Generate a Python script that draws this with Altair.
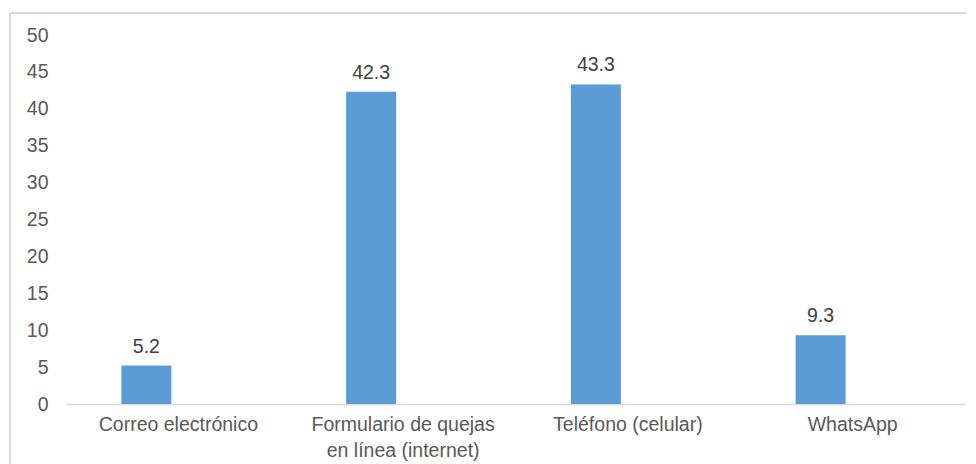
import altair as alt
import pandas as pd

categories = ["Correo electrónico", "Formulario de quejas\nen línea (internet)", "Teléfono (celular)", "WhatsApp"]
values = [5.2, 42.3, 43.3, 9.3]

df = pd.DataFrame({"cat": categories, "val": values})

FONT = "Liberation Sans"
GRAY = "#595959"
FS = 19.5

x = alt.X("cat:N", sort=categories, title=None,
          scale=alt.Scale(paddingInner=0, paddingOuter=0),
          axis=alt.Axis(labelAngle=0, labelFont=FONT, labelFontSize=FS, labelColor=GRAY,
                        labelExpr="split(datum.label, '\\n')", labelLineHeight=26,
                        labelPadding=11, ticks=False, domainColor="#d9d9d9", domainWidth=1.3,
                        labelBaseline="top", labelLimit=400))
y = alt.Y("val:Q", title=None, scale=alt.Scale(domain=[0, 50], nice=False),
          axis=alt.Axis(values=list(range(0, 51, 5)), grid=False, domain=False, ticks=False,
                        labelFont=FONT, labelFontSize=FS, labelColor=GRAY, labelPadding=18))

bars = alt.Chart(df).mark_bar(color="#5B9BD5", width=50, xOffset=-32).encode(x=x, y=y)
labels = alt.Chart(df).mark_text(font=FONT, fontSize=FS, color="#404040", dx=-32, dy=-13,
                                 baseline="alphabetic").encode(x=x, y=y, text=alt.Text("val:Q", format=".1f"))

border = alt.Chart(pd.DataFrame({"a": [0]})).mark_rule(color="#d9d9d9", strokeWidth=2, clip=False)
left = border.encode(x=alt.value(-56), y=alt.value(-22), y2=alt.value(470))
top = border.encode(x=alt.value(-56), x2=alt.value(920), y=alt.value(-22))

chart = alt.layer(left, top, bars, labels).properties(
    width=899, height=369,
    autosize=alt.AutoSizeParams(type="none"),
    padding={"left": 58, "top": 27, "right": 2, "bottom": 60},
).configure(background="white").configure_view(stroke=None)

chart.save("out.html", embed_options={"renderer": "svg", "actions": False})
